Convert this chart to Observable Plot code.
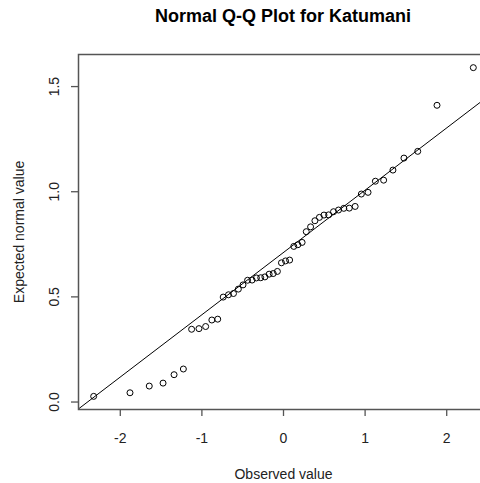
<!DOCTYPE html>
<html>
<head>
<meta charset="utf-8">
<script src="https://cdn.jsdelivr.net/npm/d3@7"></script>
<script src="https://cdn.jsdelivr.net/npm/@observablehq/plot@0.6"></script>
<style>
  html, body { margin: 0; padding: 0; background: #fff; }
  #wrap { position: relative; width: 480px; height: 483px; overflow: hidden; font-family: "Liberation Sans", Arial, sans-serif; }
  #title { position: absolute; top: 0; left: 78px; width: 410px; text-align: center; font: bold 18px "Liberation Sans", Arial, sans-serif; line-height: 20px; padding-top: 6px; color: #000; }
  #chart { position: absolute; top: 0; left: 0; width: 488px; height: 483px; }
  #chart svg { max-width: none !important; width: 488px; height: 483px; }
</style>
</head>
<body>
<div id="wrap">
  <div id="chart"></div>
  <div id="title">Normal Q-Q Plot for Katumani</div>
</div>
<script>
const titleText = "Normal Q-Q Plot for Katumani";
const xLabel = "Observed value";
const yLabel = "Expected normal value";
const xTicks = [-2, -1, 0, 1, 2];
const xTickLabels = ["-2", "-1", "0", "1", "2"];
const yTicks = [0, 0.5, 1.0, 1.5];
const yTickLabels = ["0.0", "0.5", "1.0", "1.5"];

const observed = [-2.326,-1.881,-1.645,-1.476,-1.341,-1.227,-1.126,-1.036,-0.954,-0.878,
  -0.806,-0.739,-0.674,-0.613,-0.553,-0.496,-0.440,-0.385,-0.332,-0.279,
  -0.228,-0.176,-0.126,-0.075,-0.025,0.025,0.075,0.126,0.176,0.228,
  0.279,0.332,0.385,0.440,0.496,0.553,0.613,0.674,0.739,0.806,
  0.878,0.954,1.036,1.126,1.227,1.341,1.476,1.645,1.881,2.326];
const expected = [0.027,0.044,0.076,0.090,0.130,0.157,0.346,0.349,0.359,0.390,
  0.394,0.499,0.510,0.516,0.537,0.557,0.579,0.580,0.590,0.591,
  0.595,0.608,0.611,0.621,0.662,0.671,0.675,0.740,0.748,0.759,
  0.810,0.833,0.862,0.878,0.889,0.890,0.905,0.913,0.921,0.922,
  0.930,0.989,0.997,1.050,1.055,1.103,1.160,1.192,1.411,1.590];

const data = observed.map((x, i) => ({x, y: expected[i]}));

// R-style axis ranges (4% extension)
function rRange(v) {
  const [a, b] = d3.extent(v);
  const e = (b - a) * 0.04;
  return [a - e, b + e];
}
const xDomain = rRange(observed);
const yDomain = rRange(expected);

// qqline through the quartiles
const sortedY = expected.slice().sort(d3.ascending);
const y25 = d3.quantileSorted(sortedY, 0.25);
const y75 = d3.quantileSorted(sortedY, 0.75);
const z75 = 0.6744897501960817;
const slope = (y75 - y25) / (2 * z75);
const intercept = y25 + slope * z75;
const lineData = xDomain.map(x => ({x, y: intercept + slope * x}));

const font = "Liberation Sans, Arial, sans-serif";
const grey = "#555";

const plot = Plot.plot({
  width: 488,
  height: 483,
  marginLeft: 78,
  marginRight: 0,
  marginTop: 54,
  marginBottom: 74,
  style: {fontFamily: font, background: "white", overflow: "visible", maxWidth: "none"},
  x: {domain: xDomain},
  y: {domain: yDomain},
  marks: [
    Plot.line(lineData, {x: "x", y: "y", stroke: "black", strokeWidth: 1, clip: true}),
    Plot.dot(data, {x: "x", y: "y", r: 3, stroke: "black", strokeWidth: 1, fill: "none"}),
    Plot.frame({stroke: grey, strokeWidth: 1.5}),
    Plot.axisX({ticks: xTicks, tickSize: 7, tickFormat: () => "", label: null, stroke: grey, strokeWidth: 1.3}),
    Plot.axisY({ticks: yTicks, tickSize: 7, tickFormat: () => "", label: null, stroke: grey, strokeWidth: 1.3}),
    Plot.text(xTicks, {x: d => d, text: (d, i) => xTickLabels[i], frameAnchor: "bottom", dy: 29.5, lineAnchor: "middle", fontSize: 14, fill: "#222"}),
    Plot.text(yTicks, {y: d => d, text: (d, i) => yTickLabels[i], frameAnchor: "left", dx: -24, rotate: -90, textAnchor: "middle", lineAnchor: "middle", fontSize: 14, fill: "#222"}),
    Plot.text([xLabel], {text: d => d, frameAnchor: "bottom", dy: 65, lineAnchor: "middle", fontSize: 14, fill: "#222"}),
    Plot.text([yLabel], {text: d => d, frameAnchor: "left", dx: -59, rotate: -90, textAnchor: "middle", lineAnchor: "middle", fontSize: 14, fill: "#222"})
  ]
});
plot.style.maxWidth = "none";
document.getElementById("chart").appendChild(plot);
document.getElementById("title").textContent = titleText;
</script>
</body>
</html>
